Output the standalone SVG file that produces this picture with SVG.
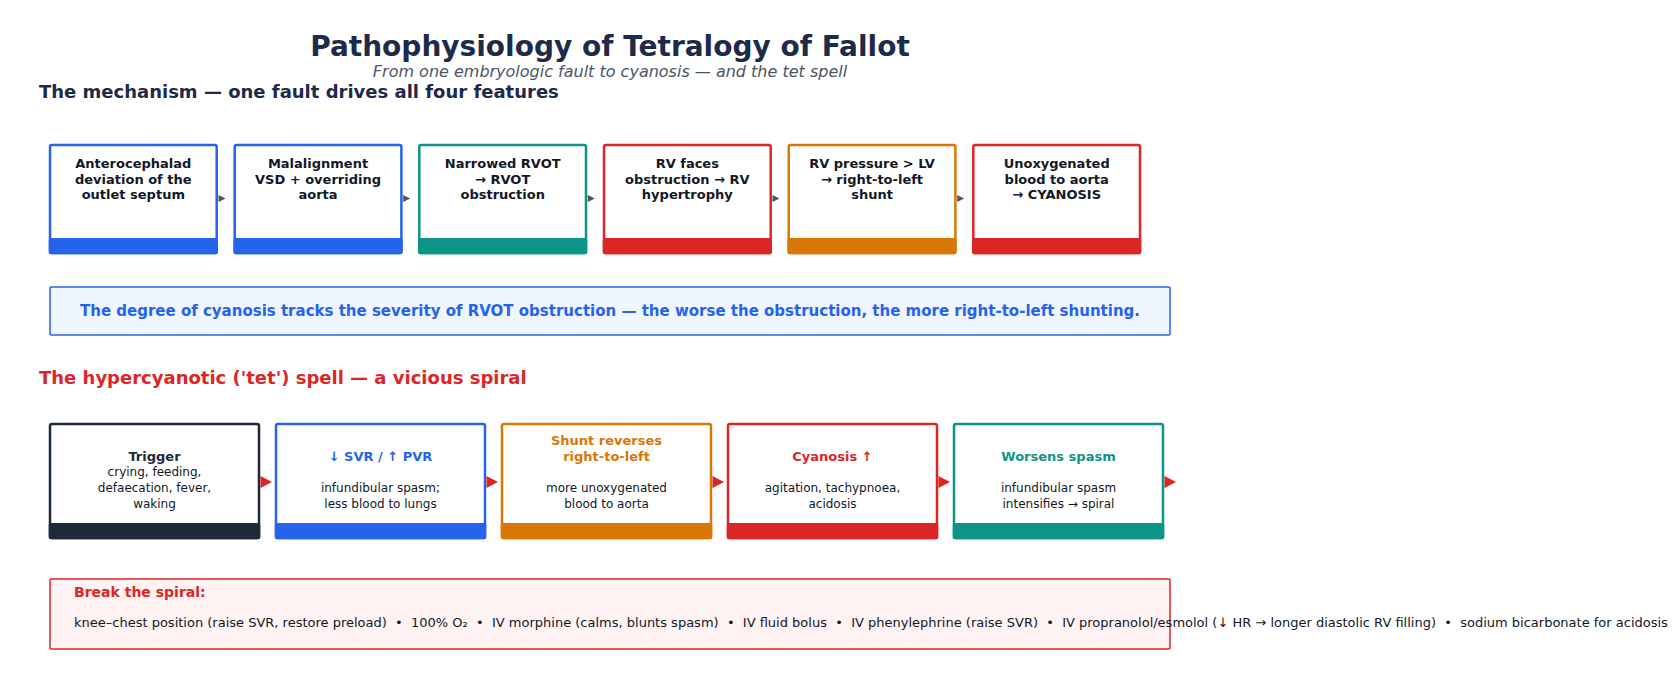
<svg xmlns="http://www.w3.org/2000/svg" width="1680" height="695" viewBox="0 0 1680 695">
<defs>
<style>
text{font-family:"DejaVu Sans","Liberation Sans",sans-serif;}
.title{font-size:28px;font-weight:bold;fill:#1e2a4a;text-anchor:middle;}
.sub{font-size:16px;font-style:italic;fill:#4b5563;text-anchor:middle;}
.h1{font-size:18px;font-weight:bold;fill:#1e2a4a;}
.h2{font-size:18px;font-weight:bold;fill:#dc2626;}
.box{fill:#ffffff;stroke-width:2.5;}
.t1{font-size:13px;font-weight:bold;fill:#111827;text-anchor:middle;}
.tt{font-size:13px;font-weight:bold;text-anchor:middle;}
.tb{font-size:12px;fill:#111827;text-anchor:middle;}
.banner{fill:#eff6ff;stroke:#2563eb;stroke-width:1.5;}
.bantext{font-size:15px;font-weight:bold;fill:#2563eb;text-anchor:middle;}
.brk{fill:#fef2f2;stroke:#dc2626;stroke-width:1.5;}
.brkh{font-size:14px;font-weight:bold;fill:#dc2626;}
.brkb{font-size:13px;fill:#111827;white-space:pre;}
.a1{fill:#4b5563;}
.a2{fill:#dc2626;}
.blue{stroke:#2563eb;} .teal{stroke:#0d9488;} .red{stroke:#dc2626;} .orange{stroke:#d97706;} .navy{stroke:#1e293b;}
.fblue{fill:#2563eb;} .fteal{fill:#0d9488;} .fred{fill:#dc2626;} .forange{fill:#d97706;} .fnavy{fill:#1e293b;}
</style>
</defs>
<rect width="1680" height="695" fill="#ffffff"/>
<g id="header">
<text class="title" x="610" y="56">Pathophysiology of Tetralogy of Fallot</text>
<text class="sub" x="610" y="77">From one embryologic fault to cyanosis — and the tet spell</text>
<text class="h1" x="39" y="98">The mechanism — one fault drives all four features</text>
</g>
<g id="m1">
<rect class="box blue" x="50" y="145" width="166.7" height="108" rx="2"/>
<rect class="fblue" x="48.75" y="238" width="169.2" height="16.25" rx="2"/>
<text class="t1" x="133.3" y="168">Anterocephalad</text>
<text class="t1" x="133.3" y="183.5">deviation of the</text>
<text class="t1" x="133.3" y="199">outlet septum</text>
</g>
<g id="m2">
<rect class="box blue" x="234.7" y="145" width="166.7" height="108" rx="2"/>
<rect class="fblue" x="233.45" y="238" width="169.2" height="16.25" rx="2"/>
<text class="t1" x="318" y="168">Malalignment</text>
<text class="t1" x="318" y="183.5">VSD + overriding</text>
<text class="t1" x="318" y="199">aorta</text>
</g>
<g id="m3">
<rect class="box teal" x="419.3" y="145" width="166.7" height="108" rx="2"/>
<rect class="fteal" x="418.05" y="238" width="169.2" height="16.25" rx="2"/>
<text class="t1" x="502.7" y="168">Narrowed RVOT</text>
<text class="t1" x="502.7" y="183.5">→ RVOT</text>
<text class="t1" x="502.7" y="199">obstruction</text>
</g>
<g id="m4">
<rect class="box red" x="604" y="145" width="166.7" height="108" rx="2"/>
<rect class="fred" x="602.75" y="238" width="169.2" height="16.25" rx="2"/>
<text class="t1" x="687.3" y="168">RV faces</text>
<text class="t1" x="687.3" y="183.5">obstruction → RV</text>
<text class="t1" x="687.3" y="199">hypertrophy</text>
</g>
<g id="m5">
<rect class="box orange" x="788.7" y="145" width="166.7" height="108" rx="2"/>
<rect class="forange" x="787.45" y="238" width="169.2" height="16.25" rx="2"/>
<text class="t1" x="872" y="168">RV pressure &gt; LV</text>
<text class="t1" x="872" y="183.5">→ right-to-left</text>
<text class="t1" x="872" y="199">shunt</text>
</g>
<g id="m6">
<rect class="box red" x="973.3" y="145" width="166.7" height="108" rx="2"/>
<rect class="fred" x="972.05" y="238" width="169.2" height="16.25" rx="2"/>
<text class="t1" x="1056.7" y="168">Unoxygenated</text>
<text class="t1" x="1056.7" y="183.5">blood to aorta</text>
<text class="t1" x="1056.7" y="199">→ CYANOSIS</text>
</g>
<g id="banner">
<rect class="banner" x="50" y="287" width="1120" height="48" rx="1"/>
<text class="bantext" x="610" y="316">The degree of cyanosis tracks the severity of RVOT obstruction — the worse the obstruction, the more right-to-left shunting.</text>
</g>
<g id="header2">
<text class="h2" x="39" y="384">The hypercyanotic ('tet') spell — a vicious spiral</text>
</g>
<g id="s1">
<rect class="box navy" x="50" y="424" width="209" height="114" rx="2"/>
<rect class="fnavy" x="48.75" y="523" width="211.5" height="16.25" rx="2"/>
<text class="tt" x="154.5" y="460.5" fill="#1e293b">Trigger</text>
<text class="tb" x="154.5" y="476">crying, feeding,</text>
<text class="tb" x="154.5" y="492">defaecation, fever,</text>
<text class="tb" x="154.5" y="507.5">waking</text>
</g>
<g id="s2">
<rect class="box blue" x="276" y="424" width="209" height="114" rx="2"/>
<rect class="fblue" x="274.75" y="523" width="211.5" height="16.25" rx="2"/>
<text class="tt" x="380.5" y="460.5" fill="#2563eb">↓ SVR / ↑ PVR</text>
<text class="tb" x="380.5" y="492">infundibular spasm;</text>
<text class="tb" x="380.5" y="507.5">less blood to lungs</text>
</g>
<g id="s3">
<rect class="box orange" x="502" y="424" width="209" height="114" rx="2"/>
<rect class="forange" x="500.75" y="523" width="211.5" height="16.25" rx="2"/>
<text class="tt" x="606.5" y="444.5" fill="#d97706">Shunt reverses</text>
<text class="tt" x="606.5" y="460.5" fill="#d97706">right-to-left</text>
<text class="tb" x="606.5" y="492">more unoxygenated</text>
<text class="tb" x="606.5" y="507.5">blood to aorta</text>
</g>
<g id="s4">
<rect class="box red" x="728" y="424" width="209" height="114" rx="2"/>
<rect class="fred" x="726.75" y="523" width="211.5" height="16.25" rx="2"/>
<text class="tt" x="832.5" y="460.5" fill="#dc2626">Cyanosis ↑</text>
<text class="tb" x="832.5" y="492">agitation, tachypnoea,</text>
<text class="tb" x="832.5" y="507.5">acidosis</text>
</g>
<g id="s5">
<rect class="box teal" x="954" y="424" width="209" height="114" rx="2"/>
<rect class="fteal" x="952.75" y="523" width="211.5" height="16.25" rx="2"/>
<text class="tt" x="1058.5" y="460.5" fill="#0d9488">Worsens spasm</text>
<text class="tb" x="1058.5" y="492">infundibular spasm</text>
<text class="tb" x="1058.5" y="507.5">intensifies → spiral</text>
</g>
<g id="connectors">
<path class="a1" d="M218.5,195 L225.5,198.5 L218.5,202 Z"/>
<path class="a1" d="M403.2,195 L410.2,198.5 L403.2,202 Z"/>
<path class="a1" d="M587.8,195 L594.8,198.5 L587.8,202 Z"/>
<path class="a1" d="M772.5,195 L779.5,198.5 L772.5,202 Z"/>
<path class="a1" d="M957.2,195 L964.2,198.5 L957.2,202 Z"/>
<path class="a2" d="M260.5,476 L272,482 L260.5,488 Z"/>
<path class="a2" d="M486.5,476 L498,482 L486.5,488 Z"/>
<path class="a2" d="M712.5,476 L724,482 L712.5,488 Z"/>
<path class="a2" d="M938.5,476 L950,482 L938.5,488 Z"/>
<path class="a2" d="M1164.5,476 L1176,482 L1164.5,488 Z"/>
</g>
<g id="break">
<rect class="brk" x="50" y="579" width="1120" height="70" rx="1"/>
<text class="brkh" x="74" y="597">Break the spiral:</text>
<text class="brkb" x="74" y="627">knee–chest position (raise SVR, restore preload)  •  100% O₂  •  IV morphine (calms, blunts spasm)  •  IV fluid bolus  •  IV phenylephrine (raise SVR)  •  IV propranolol/esmolol (↓ HR → longer diastolic RV filling)  •  sodium bicarbonate for acidosis</text>
</g>
</svg>
